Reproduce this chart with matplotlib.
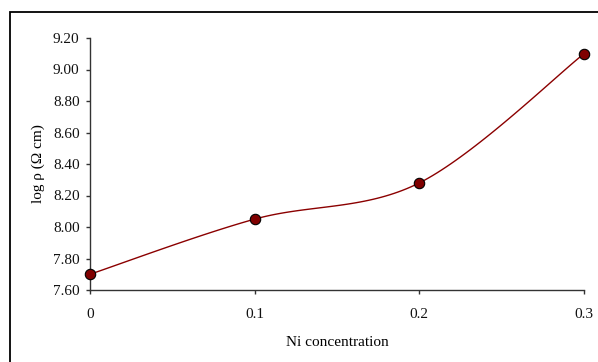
import numpy as np
import matplotlib
matplotlib.use("Agg")
import matplotlib.pyplot as plt
from matplotlib.patches import Rectangle

ni_conc = [0.0, 0.1, 0.2, 0.3]
log_rho = [7.70, 8.05, 8.28, 9.10]
y_ticks = [7.60, 7.80, 8.00, 8.20, 8.40, 8.60, 8.80, 9.00, 9.20]
x_ticks = [0, 0.1, 0.2, 0.3]
x_tick_labels = ["0", "0.1", "0.2", "0.3"]

plt.rcParams["font.family"] = ["Liberation Serif", "DejaVu Serif"]

W, H = 598, 362
fig = plt.figure(figsize=(W / 100, H / 100), dpi=100)
ax = fig.add_axes([90 / W, 1 - 290 / H, (584 - 90) / W, (290 - 38) / H])

xmin, xmax = 0.0, 0.3
ymin, ymax = 7.60, 9.20


def smooth_curve(xs, ys, n=40):
    # Bezier smoothing with control points from neighbouring points (scaled to axis space)
    sx = (xmax - xmin) * 1.0
    sy = (ymax - ymin) * 0.51
    px = np.array(xs) / sx
    py = np.array(ys) / sy
    pts = np.column_stack([px, py])
    out = []
    m = len(pts)
    for i in range(m - 1):
        p0 = pts[max(i - 1, 0)]
        p1 = pts[i]
        p2 = pts[i + 1]
        p3 = pts[min(i + 2, m - 1)]
        c1 = p1 + (p2 - p0) / 6.0
        c2 = p2 - (p3 - p1) / 6.0
        t = np.linspace(0, 1, n)[:, None]
        seg = ((1 - t) ** 3) * p1 + 3 * ((1 - t) ** 2) * t * c1 + 3 * (1 - t) * t ** 2 * c2 + t ** 3 * p2
        out.append(seg if i == 0 else seg[1:])
    out = np.vstack(out)
    return out[:, 0] * sx, out[:, 1] * sy


cx, cy = smooth_curve(ni_conc, log_rho)
ax.plot(cx, cy, color="#8B0000", lw=1.0, zorder=2, clip_on=False)
ax.plot(ni_conc, log_rho, "o", ms=7.5, mfc="#800000", mec="black", mew=0.8, zorder=3, clip_on=False)

ax.set_xlim(xmin, xmax)
ax.set_ylim(ymin, ymax)
ax.set_yticks(y_ticks)
ax.set_yticklabels([f"{v:.2f}" for v in y_ticks])
ax.set_xticks(x_ticks)
ax.set_xticklabels(x_tick_labels)

for side in ("top", "right"):
    ax.spines[side].set_visible(False)
for side in ("left", "bottom"):
    ax.spines[side].set_color("#333333")
    ax.spines[side].set_linewidth(1.0)
ax.tick_params(axis="both", direction="out", length=3, width=1.0, color="#333333",
               labelsize=11, labelcolor="#111111")
ax.tick_params(axis="y", pad=4.5)
ax.tick_params(axis="x", pad=10)

ax.set_xlabel("Ni concentration", fontsize=11, labelpad=11)
ax.set_ylabel("log ρ (Ω cm)", fontsize=11, labelpad=6)

# chart area border
fig.patches.append(Rectangle((10 / W, -0.05), 1.0, 1 - 12 / H + 0.05,
                             transform=fig.transFigure, fill=False,
                             edgecolor="black", lw=1.3))

fig.savefig("out.png", dpi=100)
